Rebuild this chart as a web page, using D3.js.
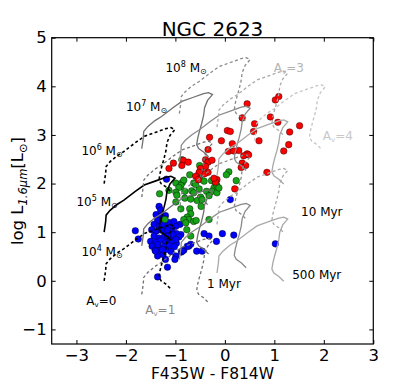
<!DOCTYPE html>
<html>
<head>
<meta charset="utf-8">
<script src="https://cdn.jsdelivr.net/npm/d3@7"></script>
<style>
  body { margin: 0; background: #fff; }
  text { font-family: "DejaVu Sans", sans-serif; }
</style>
</head>
<body>
<div id="chart"></div>
<script>
const width = 415, height = 383;

// cluster colours (F435W - F814W) and log L(1.6um)
const blueColor = [-1.18,0.11,1.02,-1.81,-1.75,-1.36,-1.16,-0.99,-1.01,-0.88,-0.83,-0.73,-0.69,-0.57,-0.46,-0.42,-0.32,-0.05,0.18,-0.17,-0.89,-0.91,-0.76,-0.86,
  -1.33,-1.30,-1.39,-1.30,-1.20,-1.36,-1.25,-1.13,-1.03,-1.43,-1.33,-1.21,-1.09,-0.99,-1.48,-1.39,-1.28,-1.18,-1.07,-0.98,-1.43,-1.33,-1.23,-1.13,-1.03,-0.93,
  -1.50,-1.40,-1.30,-1.20,-1.08,-0.98,-1.47,-1.34,-1.23,-1.13,-1.02,-1.41,-1.30,-1.20,-1.09,-1.36,-1.25,-1.26,-1.16,-1.06,-1.36,-0.99,-1.16,-1.40,-1.26,-1.20,-1.23];
const blueLogL = [2.09,1.67,0.76,1.03,0.86,0.08,0.28,0.51,0.44,0.59,0.63,0.71,0.75,0.61,0.61,0.97,0.92,0.97,0.94,0.81,0.95,1.16,0.71,0.61,
  1.53,1.46,1.36,1.33,1.34,1.24,1.22,1.20,1.22,1.16,1.12,1.14,1.10,1.12,1.05,1.02,1.04,0.99,1.02,0.97,0.92,0.88,0.90,0.86,0.88,0.90,
  0.81,0.79,0.83,0.78,0.80,0.77,0.71,0.70,0.70,0.72,0.70,0.63,0.62,0.64,0.60,0.51,0.54,1.16,1.05,0.95,0.75,0.85,0.92,0.61,0.64,0.44,1.28];

const greenColor = [-0.87,-0.51,-0.71,-0.49,-0.27,0.08,0.23,-0.99,-0.86,-0.83,-0.89,-0.93,-0.63,-0.50,-0.42,-0.19,-0.22,-0.16,-1.32,-1.13,-0.99,-0.81,-0.67,-0.63,-0.52,-0.37,-0.26,
  -0.16,-0.32,-0.49,-0.81,-0.69,-0.56,-0.46,-0.48,-0.89,-0.71,-0.69,-0.76,-0.73,-0.83,-0.63,-0.79,-0.32,-0.69,0.03,-0.59,-0.12,-0.97,-0.99,-1.21,-0.77,-0.58];
const greenLogL = [2.49,2.37,2.18,2.20,2.06,2.24,2.06,2.01,2.02,2.07,1.96,1.92,2.01,2.09,2.05,2.01,1.91,1.96,1.79,1.86,1.82,1.84,1.85,1.81,1.89,1.84,1.84,
  1.81,1.75,1.72,1.70,1.68,1.65,1.67,1.53,1.48,1.48,1.38,1.31,1.26,1.26,1.22,1.19,1.26,0.92,2.18,1.98,1.91,1.76,1.62,1.26,1.05,1.24];

const redColor = [0.45,1.02,1.09,0.35,0.92,1.07,0.60,1.51,1.31,0.05,0.11,-0.31,-0.07,0.69,0.15,1.29,-0.34,0.07,0.18,0.28,0.45,0.38,0.48,1.19,
  -0.39,-0.34,-0.26,-0.39,0.35,0.42,0.33,-0.84,-0.74,-0.87,-1.04,-1.13,-0.34,-0.41,-0.16,-0.19,0.85,0.20,-0.49,-0.52,0.58,-0.59,-0.54,-0.22];
const redLogL = [3.64,3.72,3.79,3.35,3.37,3.26,3.23,3.19,3.06,3.09,3.07,2.95,2.88,2.88,2.82,2.80,2.70,2.66,2.67,2.68,2.61,2.57,2.59,2.67,
  2.49,2.44,2.48,2.35,2.42,2.37,2.33,2.48,2.44,2.37,2.42,2.31,2.23,2.20,2.08,2.03,2.23,1.89,2.31,2.23,3.07,2.15,2.08,2.11];

// model track for 1e4 Msun, Av = 0 (1 Myr -> 500 Myr)
const trackColor = [-2.44,-2.41,-2.40,-2.32,-2.18,-2.04,-1.81,-1.63,-1.41,-1.19,-1.09,-1.01,-1.11,-1.17,-1.19,-1.23,-1.27,-1.31,-1.33,-1.29,-1.19,-1.09];
const trackLogL = [0.00,0.21,0.35,0.45,0.57,0.66,0.84,0.97,1.05,1.13,1.15,1.11,0.99,0.84,0.68,0.51,0.37,0.21,0.08,0.00,-0.07,-0.17];
// extinction vector per magnitude of Av
const extColor = 0.76, extLogL = -0.28;
const trackMass = [4,5,6, 4,5,6,7, 5,6,7,8, 5,6,7,8, 8];
const trackAv   = [0,0,0, 1,1,1,1, 2,2,2,2, 3,3,3,3, 4];
const avColors = ["#000000", "#707070", "#8a8a8a", "#a9a9a9", "#c4c4c4"];

const xTicks = [-3,-2,-1,0,1,2,3];
const yTicks = [-1,0,1,2,3,4,5];

const svg = d3.select("#chart")
    .append("svg")
    .attr("width", width)
    .attr("height", height);

const x = d3.scaleLinear().domain([-3.5, 3]).range([51.7, 373.3]);
const y = d3.scaleLinear().domain([-1.3, 5]).range([344, 37.7]);

// points
const groups = [
    { c: blueColor, l: blueLogL, fill: "#0000ff" },
    { c: greenColor, l: greenLogL, fill: "#17a317" },
    { c: redColor, l: redLogL, fill: "#ff0000" }
];
groups.forEach(gr => {
    svg.append("g").selectAll("circle")
        .data(gr.c.map((c, i) => [c, gr.l[i]]))
        .enter().append("circle")
        .attr("cx", d => x(d[0]))
        .attr("cy", d => y(d[1]))
        .attr("r", 3.3)
        .attr("fill", gr.fill)
        .attr("stroke", "#000")
        .attr("stroke-width", 0.4);
});

// tracks
const line = d3.line().x(d => x(d[0])).y(d => y(d[1]));
trackMass.forEach((m, k) => {
    const av = trackAv[k];
    const pts = trackColor.map((c, i) => [c + av * extColor, trackLogL[i] + (m - 4) + av * extLogL]);
    svg.append("path")
        .attr("d", line(pts))
        .attr("fill", "none")
        .attr("stroke", avColors[av])
        .attr("stroke-width", av === 0 ? 1.6 : 1.3)
        .attr("stroke-dasharray", m % 2 === 0 ? "3,2.5" : null);
});

// annotations
const massLabels = [[4,-2.90,0.50],[5,-3.0,1.53],[6,-2.90,2.59],[7,-2.0,3.50],[8,-1.2,4.29]];
massLabels.forEach(d => {
    const t = svg.append("text").attr("x", x(d[1])).attr("y", y(d[2])).attr("font-size", 12);
    t.append("tspan").text("10");
    t.append("tspan").attr("font-size", 8).attr("dy", -5).text(d[0]);
    t.append("tspan").attr("dy", 5).text(" M");
    t.append("tspan").attr("font-size", 8).attr("dy", 2).text("\u2299");
});

const avLabels = [[0,-2.80,-0.49],[1,-1.61,-0.69],[3,0.99,4.30],[4,1.98,2.90]];
const avLabelColors = ["#000", "#888", "#b4b4b4", "#c8c8c8"];
avLabels.forEach((d, i) => {
    const t = svg.append("text").attr("x", x(d[1])).attr("y", y(d[2]))
        .attr("font-size", 12).attr("fill", avLabelColors[i]);
    t.append("tspan").text("A");
    t.append("tspan").attr("font-size", 7).attr("dy", 2).text("v");
    t.append("tspan").attr("dy", -2).text("=" + d[0]);
});

const ageLabels = [["1 Myr",-0.36,-0.14],["10 Myr",1.54,1.33],["500 Myr",1.36,0.04]];
svg.selectAll(".age")
    .data(ageLabels)
    .enter().append("text")
    .attr("class", "age")
    .attr("x", d => x(d[1]))
    .attr("y", d => y(d[2]))
    .attr("font-size", 12)
    .text(d => d[0]);

// axes, ticks inward on all sides
const fs = "16.5px";
const fmt = d3.format("d");
svg.append("g").attr("transform", "translate(0,344)")
    .call(d3.axisBottom(x).tickValues(xTicks).tickSize(-4).tickPadding(5.3).tickFormat(fmt));
svg.append("g").attr("transform", "translate(51.7,0)")
    .call(d3.axisLeft(y).tickValues(yTicks).tickSize(-4).tickPadding(5).tickFormat(fmt));
svg.append("g").attr("transform", "translate(0,37.7)")
    .call(d3.axisTop(x).tickValues(xTicks).tickSize(-4).tickFormat(""));
svg.append("g").attr("transform", "translate(373.3,0)")
    .call(d3.axisRight(y).tickValues(yTicks).tickSize(-4).tickFormat(""));
svg.selectAll(".domain").remove();
svg.selectAll(".tick text").attr("font-size", fs).attr("font-family", "DejaVu Sans").attr("fill", "#000");
svg.selectAll(".tick line").attr("stroke", "#000");

svg.append("rect")
    .attr("x", 51.7).attr("y", 37.7)
    .attr("width", 373.3 - 51.7).attr("height", 344 - 37.7)
    .attr("fill", "none").attr("stroke", "#000").attr("stroke-width", 1.2);

svg.append("text")
    .attr("x", 212.5).attr("y", 36)
    .attr("text-anchor", "middle")
    .attr("font-size", 20)
    .text("NGC 2623");

svg.append("text")
    .attr("x", 212.5).attr("y", 379.2)
    .attr("text-anchor", "middle")
    .attr("font-size", "15.5px")
    .text("F435W - F814W");

const yl = svg.append("text")
    .attr("transform", "translate(23,191) rotate(-90)")
    .attr("text-anchor", "middle")
    .attr("font-size", fs);
yl.append("tspan").text("log L");
yl.append("tspan").attr("font-size", 11.5).attr("font-style", "italic").attr("dy", 4).text("1.6\u03bcm");
yl.append("tspan").attr("dy", -4).text("[L");
yl.append("tspan").attr("font-size", 11.5).attr("dy", 4).text("\u2299");
yl.append("tspan").attr("dy", -4).text("]");
</script>
</body>
</html>
